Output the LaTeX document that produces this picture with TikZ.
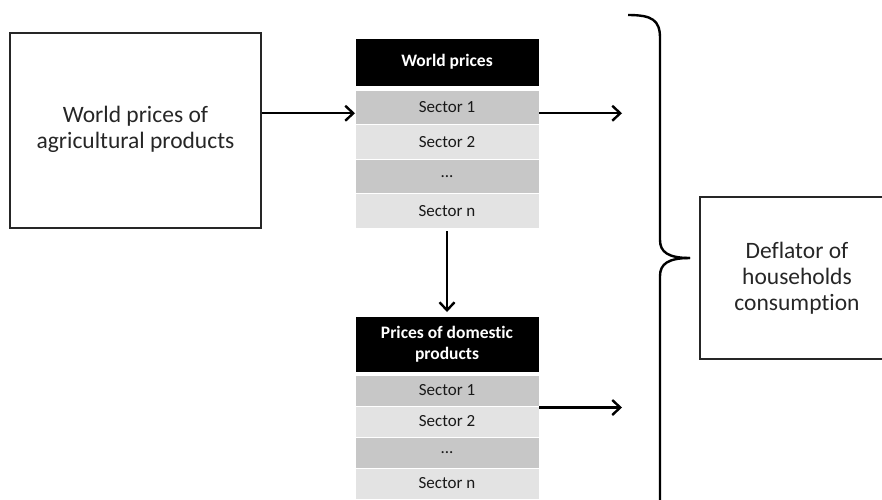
\documentclass[tikz,border=0pt]{standalone}
\usepackage{fontspec}
\setmainfont{Carlito}[Ligatures=NoCommon]
\usetikzlibrary{positioning, arrows.meta}
\newlength{\cellw}
\setlength{\cellw}{184pt}

\tikzset{
  box/.style={draw=black!85, line width=1.6pt, align=center, text=black!85,
    font=\fontsize{23.5}{26}\selectfont},
  cell/.style={minimum width=\cellw, inner sep=0pt, outer sep=0pt, align=center,
    draw=white, line width=0.6pt, text=black!90, font=\fontsize{17}{20}\selectfont},
  head/.style={cell, fill=black, text=white, font=\bfseries\fontsize{17.5}{21}\selectfont},
  darkcell/.style={cell, fill=black!22},
  lightcell/.style={cell, fill=black!11},
  flow/.style={line width=2.4pt, -{Straight Barb[length=8pt, width=15pt]}}
}

\begin{document}
\begin{tikzpicture}[x=1pt, y=-1pt]
    \useasboundingbox (0,0) rectangle (882,499);

    % Input box
    \node[box, minimum width=251pt, minimum height=195pt] (wagri) at (135.5,130.5)
      {World prices of\\agricultural products\\[-20pt]};

    % World prices table
    \node[head, minimum height=48pt] (wh) at (447,62) {World prices};
    \node[darkcell, minimum height=34.5pt, below=4pt of wh] (w1) {Sector 1};
    \node[lightcell, minimum height=34.5pt, below=0pt of w1] (w2) {Sector 2};
    \node[darkcell, minimum height=34.5pt, below=0pt of w2] (w3) {...};
    \node[lightcell, minimum height=34.5pt, below=0pt of w3] (wn) {Sector n};

    % Domestic prices table
    \node[head, minimum height=56pt, below=88pt of wn] (dh) {Prices of domestic\\products};
    \node[darkcell, minimum height=31pt, below=3pt of dh] (d1) {Sector 1};
    \node[lightcell, minimum height=31pt, below=0pt of d1] (d2) {Sector 2};
    \node[darkcell, minimum height=31pt, below=0pt of d2] (d3) {...};
    \node[lightcell, minimum height=31pt, below=0pt of d3] (dn) {Sector n};

    % Output box
    \node[box, minimum width=194pt, minimum height=162pt] (defl) at (797,278)
      {Deflator of\\households\\consumption};

    % Arrows
    \coordinate (win) at ([yshift=-6pt]w1.west);
    \coordinate (wout) at ([xshift=83pt, yshift=-6pt]w1.east);
    \coordinate (dout) at ([xshift=83pt, yshift=-17pt]d1.east);
    \draw[flow] (wagri.east |- win) -- (win);
    \draw[flow] ([yshift=-6pt]w1.east) -- (wout);
    \draw[flow] ([yshift=-3pt]wn.south) -- ([yshift=4pt]dh.north);
    \draw[flow] ([yshift=-17pt]d1.east) -- (dout);

    % Brace
    \coordinate (btop) at (628,15);
    \coordinate (btip) at (690,258);
    \coordinate (bbot) at (660,520);
    \draw[line width=2.4pt] (btop) .. controls (652,15) and (660,20) .. (660,38)
      -- (660,240) .. controls (660,252) and (668,258) .. (btip);
    \draw[line width=2.4pt] (btip) .. controls (668,258) and (660,264) .. (660,276)
      -- (bbot);
\end{tikzpicture}
\end{document}
